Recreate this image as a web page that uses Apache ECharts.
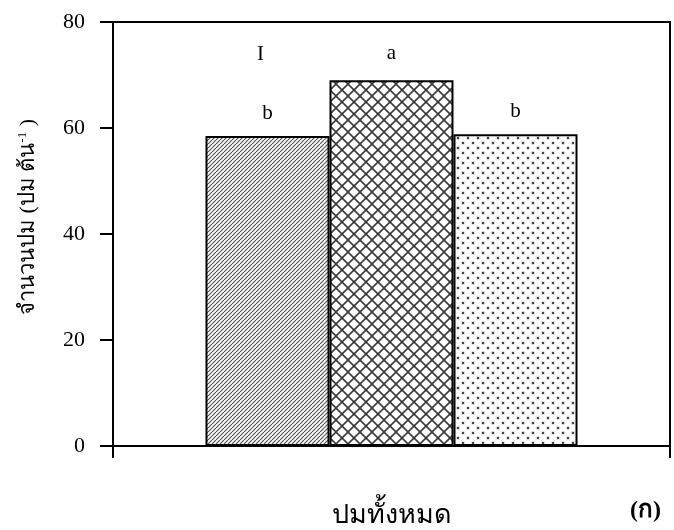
<!DOCTYPE html>
<html><head><meta charset="utf-8">
<script src="https://cdn.jsdelivr.net/npm/echarts@6/dist/echarts.min.js"></script>
<style>html,body{margin:0;padding:0;background:#fff}#c{width:674px;height:530px}</style>
</head><body><div id="c"></div>
<script>
const categories = ['ปมทั้งหมด'];
const seriesNames = ['A', 'B', 'C'];
const values = [58.5, 69.0, 58.8];
const letters = ['b', 'a', 'b'];
const yTicks = [0, 20, 40, 60, 80];

const FONT = '"Liberation Serif", "Times New Roman", serif';

function makePattern(kind) {
  const c = document.createElement('canvas');
  const ctx = c.getContext('2d');
  if (kind === 'diag') {
    c.width = 4; c.height = 4;
    ctx.fillStyle = '#fff'; ctx.fillRect(0, 0, 4, 4);
    ctx.strokeStyle = '#555'; ctx.lineWidth = 1.2;
    for (let o = -4; o <= 8; o += 4) {
      ctx.beginPath(); ctx.moveTo(o, 4); ctx.lineTo(o + 4, 0); ctx.stroke();
    }
  } else if (kind === 'cross') {
    c.width = 12; c.height = 12;
    ctx.fillStyle = '#fff'; ctx.fillRect(0, 0, 12, 12);
    ctx.strokeStyle = '#3a3a3a'; ctx.lineWidth = 1.6;
    ctx.beginPath(); ctx.moveTo(0, 0); ctx.lineTo(12, 12); ctx.stroke();
    ctx.beginPath(); ctx.moveTo(12, 0); ctx.lineTo(0, 12); ctx.stroke();
  } else {
    c.width = 10; c.height = 10;
    ctx.fillStyle = '#fff'; ctx.fillRect(0, 0, 10, 10);
    ctx.fillStyle = '#bbb';
    ctx.fillRect(1.5, 1.5, 3, 3);
    ctx.fillRect(6.5, 6.5, 3, 3);
    ctx.fillStyle = '#444';
    ctx.fillRect(2, 2, 2, 2);
    ctx.fillRect(7, 7, 2, 2);
  }
  return { image: c, repeat: 'repeat' };
}
const patterns = [makePattern('diag'), makePattern('cross'), makePattern('dots')];
const labelDist = [12, 16, 12];

const chart = echarts.init(document.getElementById('c'), null, { renderer: 'canvas' });
chart.setOption({
  animation: false,
  backgroundColor: '#fff',
  grid: { left: 113, right: 4, top: 22, bottom: 84, show: true, borderColor: '#000', borderWidth: 2, backgroundColor: 'transparent' },
  xAxis: {
    type: 'category', data: categories,
    axisLine: { lineStyle: { color: '#000', width: 2 } },
    axisTick: { show: true, length: 12, lineStyle: { color: '#000', width: 2 } },
    axisLabel: { margin: 56, fontFamily: FONT, fontSize: 27, color: '#000' }
  },
  yAxis: {
    type: 'value', min: yTicks[0], max: yTicks[yTicks.length - 1], interval: 20,
    axisLine: { show: true, lineStyle: { color: '#000', width: 2 } },
    axisTick: { show: true, inside: false, length: 13, lineStyle: { color: '#000', width: 2 } },
    axisLabel: { margin: 28, fontFamily: FONT, fontSize: 22, color: '#000' },
    splitLine: { show: false },
    name: '{n|จำนวนปม (ปม ต้น}{s|-1}{n| )}',
    nameLocation: 'middle', nameGap: 72, nameRotate: 90,
    nameTextStyle: {
      padding: [0, 0, 0, 34],
      rich: {
        n: { fontFamily: FONT, fontSize: 22, color: '#000' },
        s: { fontFamily: FONT, fontSize: 13, color: '#000', verticalAlign: 'top', padding: [0, 0, 12, 0] }
      }
    }
  },
  series: values.map((v, i) => ({
    name: seriesNames[i], type: 'bar', barWidth: 124, barGap: '0%',
    data: [v],
    itemStyle: { color: patterns[i], borderColor: '#000', borderWidth: 2 },
    label: { show: true, position: 'top', distance: labelDist[i], formatter: letters[i], fontFamily: FONT, fontSize: 21, color: '#000' }
  })),
  graphic: [
    { type: 'text', left: 257, top: 44, style: { text: 'I', font: '21px ' + FONT, fill: '#000' } },
    { type: 'text', left: 630, top: 499, style: { text: '(ก)', font: 'bold 24px ' + FONT, fill: '#000' } }
  ]
});
</script></body></html>
